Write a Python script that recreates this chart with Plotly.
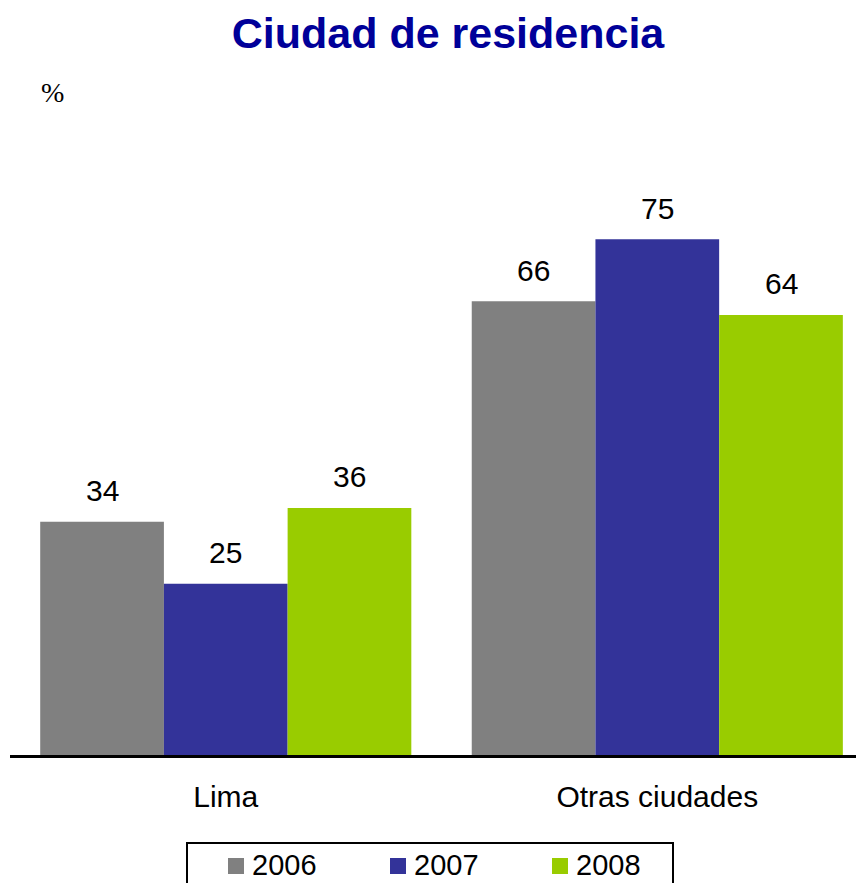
import plotly.graph_objects as go

categories = ["Lima", "Otras ciudades"]
years = ["2006", "2007", "2008"]
values = {
    "2006": [34, 66],
    "2007": [25, 75],
    "2008": [36, 64],
}
colors = {"2006": "#808080", "2007": "#333399", "2008": "#99CC00"}

# figure is drawn 8px smaller than the window (page body has an 8px margin)
W, H = 856, 875
ML, MR, MT, MB = 2, 0, 92, 127
PW, PH = W - ML - MR, H - MT - MB


def px(x):
    return (x - ML) / PW


def py(y):
    return (H - MB - y) / PH


bargap = 0.14
fig = go.Figure()
for yr in years:
    fig.add_trace(go.Bar(
        x=list(range(len(categories))), y=values[yr], name=yr,
        marker=dict(color=colors[yr], line=dict(width=0)),
        showlegend=False,
    ))

# value labels above bars
w = (1 - bargap) / len(years)
for j, yr in enumerate(years):
    off = (j - (len(years) - 1) / 2) * w
    for i, v in enumerate(values[yr]):
        fig.add_annotation(x=i + off, y=v, text=str(v), showarrow=False,
                           yanchor="middle", yshift=31,
                           font=dict(family="Liberation Sans", size=30, color="black"))

fig.add_annotation(text="%", xref="paper", yref="paper", x=px(44), y=py(85),
                   xanchor="center", yanchor="middle", showarrow=False,
                   font=dict(family="Liberation Serif", size=28, color="black"))

# baseline runs to the right edge of the page
fig.add_shape(type="line", xref="paper", yref="paper",
              x0=0, x1=px(W + 10), y0=0, y1=0,
              line=dict(color="black", width=2))

# legend box, drawn by hand so it can run off the bottom like the original
fig.add_shape(type="rect", xref="paper", yref="paper",
              x0=px(179), x1=px(665), y0=py(835), y1=py(H + 20),
              line=dict(color="black", width=2), fillcolor="white")
for k, yr in enumerate(years):
    x0 = 220 + 162 * k
    fig.add_shape(type="rect", xref="paper", yref="paper",
                  x0=px(x0), x1=px(x0 + 16), y0=py(866), y1=py(850),
                  line=dict(width=0), fillcolor=colors[yr])
    fig.add_annotation(text=yr, xref="paper", yref="paper", x=px(x0 + 22), y=py(857),
                       xanchor="left", yanchor="middle", showarrow=False,
                       font=dict(family="Liberation Sans", size=29, color="black"))

fig.update_layout(
    width=W, height=H,
    margin=dict(l=ML, r=MR, t=MT, b=MB, autoexpand=False),
    paper_bgcolor="white", plot_bgcolor="white",
    barmode="group", bargap=bargap, bargroupgap=0,
    title=dict(text="<b>Ciudad de residencia</b>", x=440 / W, xanchor="center",
               y=1 - 25 / H, yanchor="middle",
               font=dict(family="Liberation Sans", size=43, color="#000099")),
    showlegend=False,
)
fig.update_xaxes(type="linear", range=[-0.5, 1.479], tickmode="array",
                 tickvals=list(range(len(categories))), ticktext=categories,
                 showline=True, linecolor="black", linewidth=2, showgrid=False,
                 zeroline=False, ticks="", ticklabelstandoff=13, automargin=False,
                 tickfont=dict(family="Liberation Sans", size=30, color="black"))
fig.update_yaxes(range=[0, 95.2], visible=False, automargin=False)

fig.write_html("out.html")
